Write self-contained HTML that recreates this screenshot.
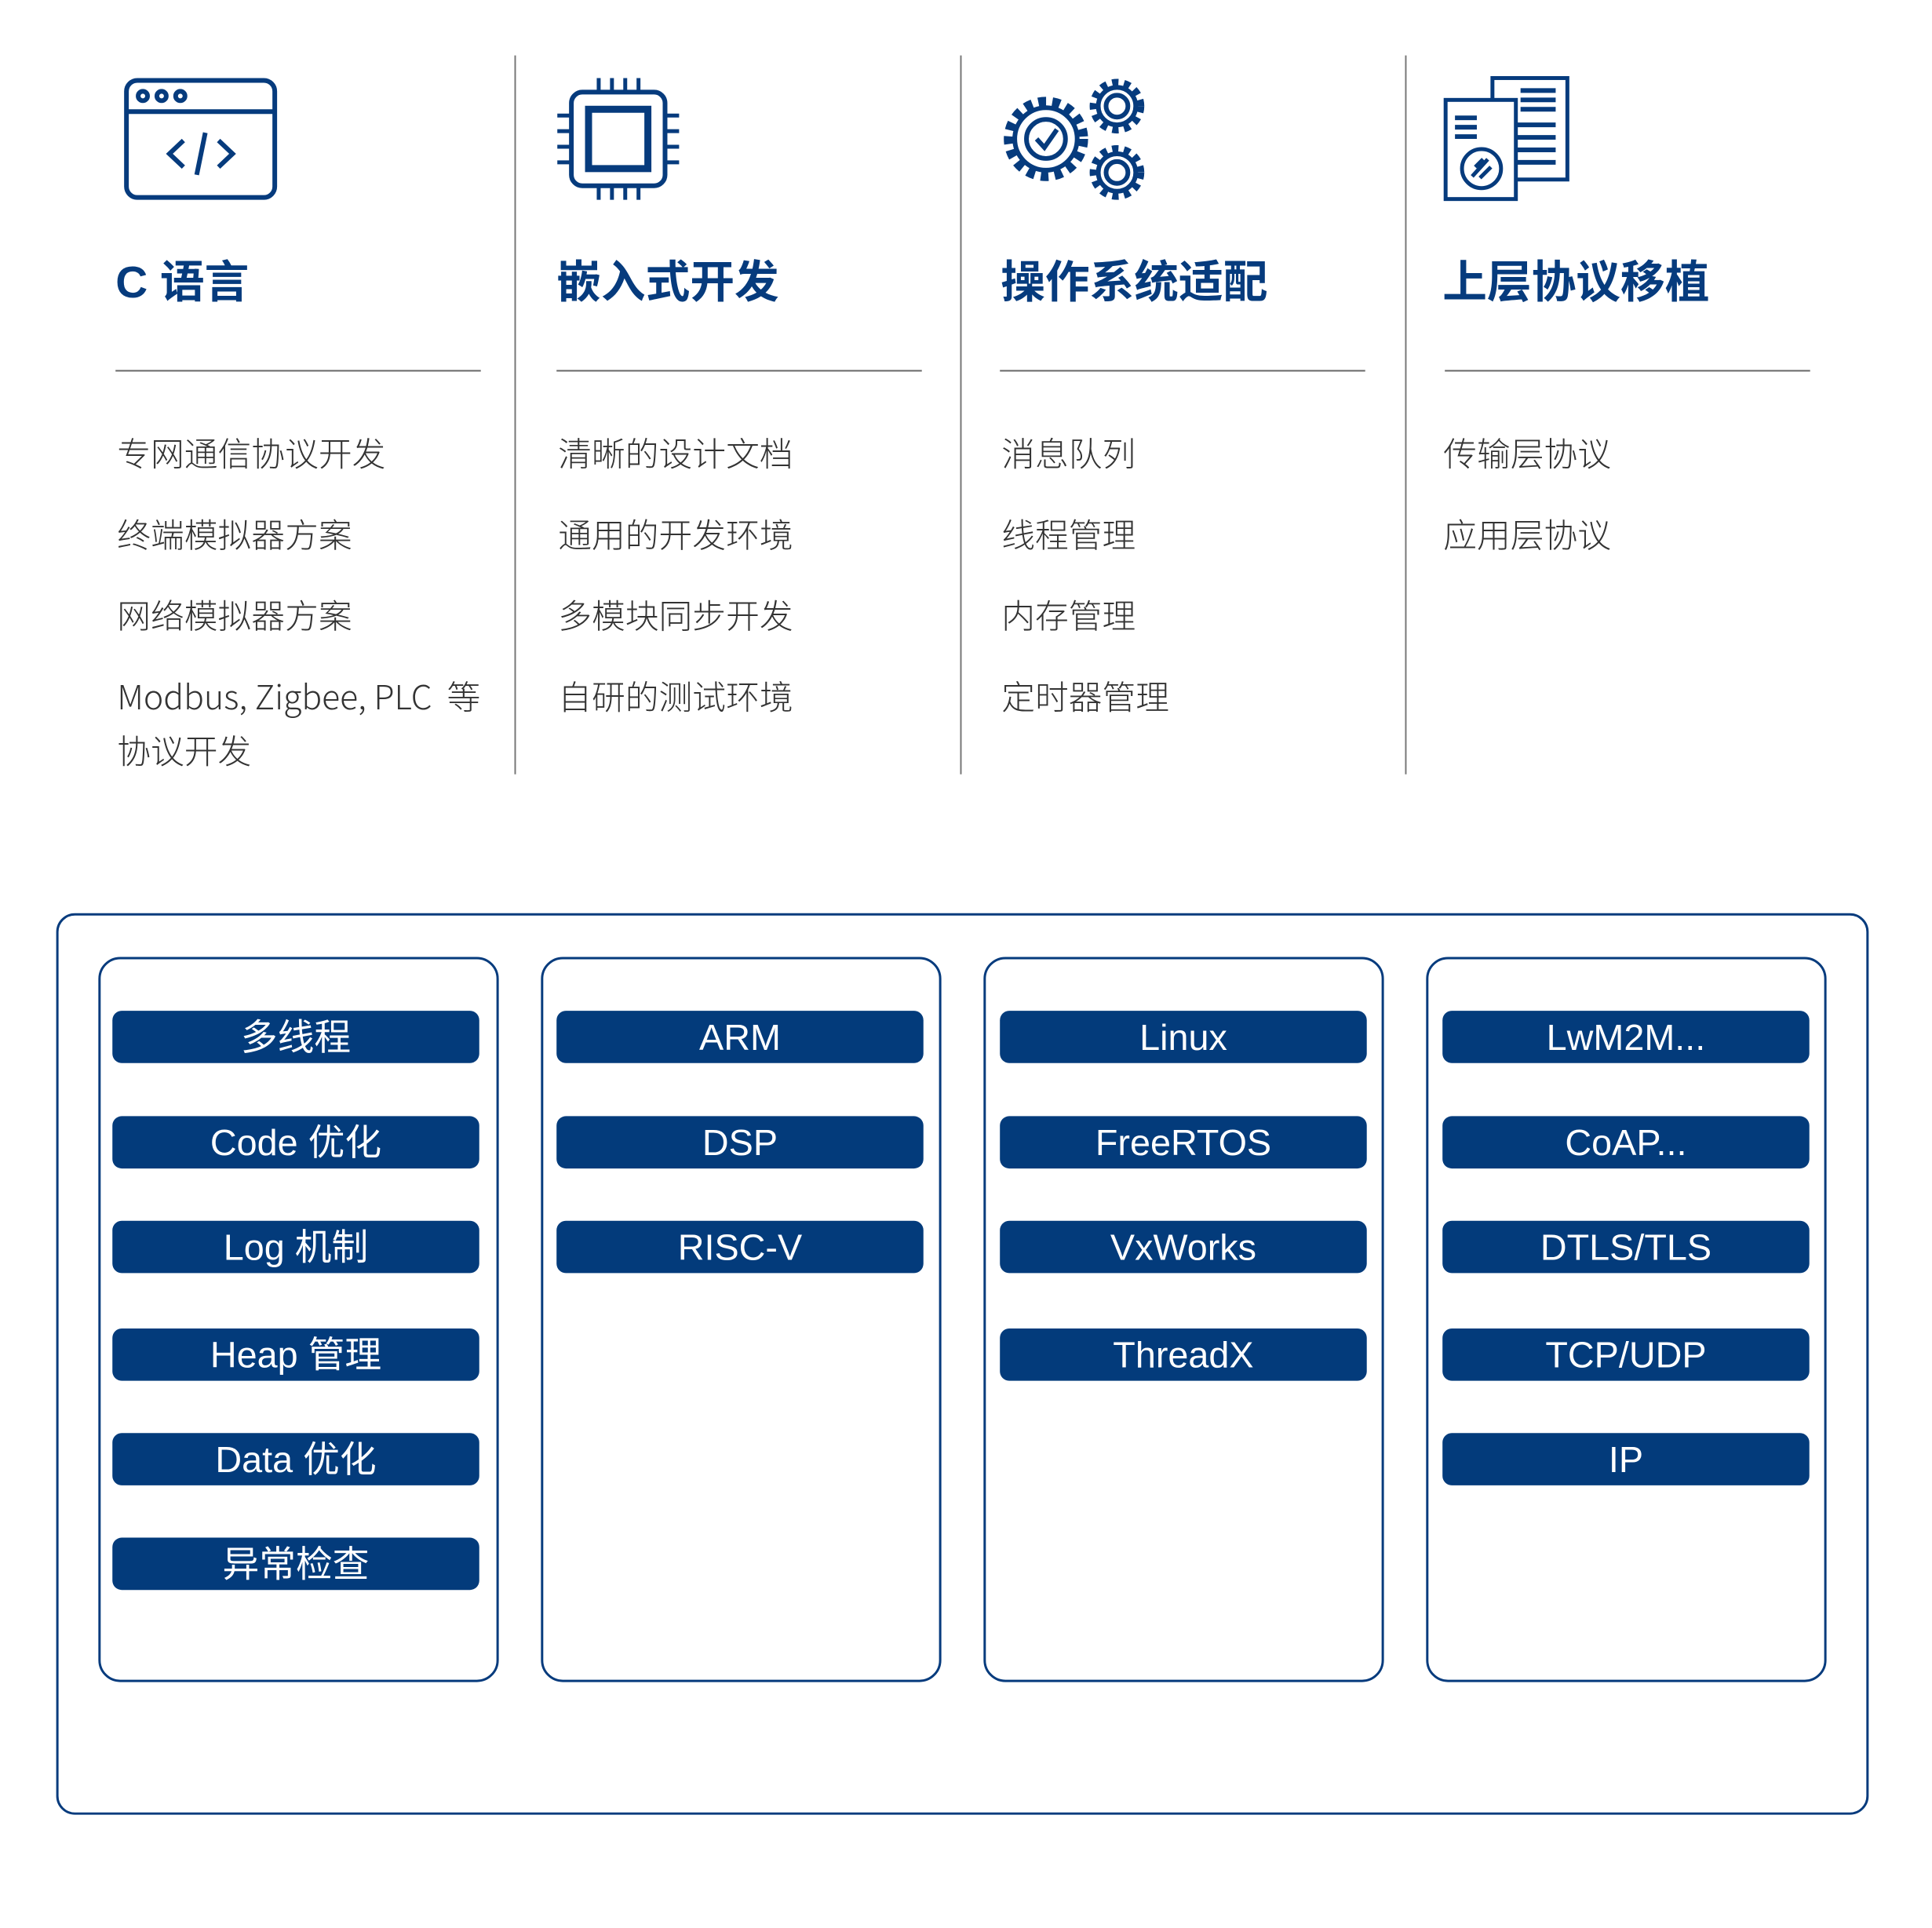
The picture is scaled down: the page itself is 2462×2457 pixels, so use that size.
<!DOCTYPE html>
<html><head><meta charset="utf-8"><style>
*{margin:0;padding:0;box-sizing:border-box}
body{width:2462px;height:2455px;background:#fff;position:relative;overflow:hidden;font-family:"Liberation Sans","Noto Sans CJK SC",sans-serif}
#w{position:absolute;left:0;top:0;width:2480px;height:2470px;transform:scale(0.9947);transform-origin:0 0}
.a{position:absolute}
.vl{position:absolute;top:71px;height:921px;width:2px;background:#777}
.hl{position:absolute;top:474px;height:2px;width:468px;background:#666}
.t{position:absolute;top:316px;font-size:57px;font-weight:bold;color:#063b7d;font-family:"Liberation Sans","Noto Sans CJK SC",sans-serif;white-space:nowrap}
.li{position:absolute;font-size:43px;color:#333;line-height:76px;white-space:nowrap;font-family:"Noto Sans CJK SC",sans-serif;font-weight:300}
.box{position:absolute;top:1226px;height:929px;width:513px;border:3px solid #063b7d;border-radius:28px}
.p{position:absolute;width:470px;height:67px;background:#033b7b;border-radius:12px;color:#fff;font-size:47px;text-align:center;line-height:67px;white-space:nowrap;margin-top:5px}
</style></head><body><div id="w">
<div class="vl" style="left:659px"></div>
<div class="vl" style="left:1230px"></div>
<div class="vl" style="left:1800px"></div>

<svg class="a" style="left:155px;top:98px" width="210" height="160" viewBox="0 0 210 160" fill="none" stroke="#063b7d" stroke-width="6">
<rect x="7" y="5" width="190" height="150" rx="14"/><line x1="7" y1="45" x2="197" y2="45"/>
<circle cx="28" cy="25" r="6"/><circle cx="52" cy="25" r="6"/><circle cx="76" cy="25" r="6"/>
<polyline points="80,82 62,99 80,116"/><polyline points="125,82 143,99 125,116"/><line x1="108" y1="72" x2="97" y2="126"/></svg>

<svg class="a" style="left:712px;top:98px" width="160" height="160" viewBox="0 0 160 160" fill="none" stroke="#063b7d" stroke-width="6">
<rect x="20" y="20" width="120" height="120" rx="14"/><rect x="42" y="42" width="76" height="76" stroke-width="9"/>
<g stroke-width="5"><line x1="55" y1="2" x2="55" y2="20"/><line x1="72" y1="2" x2="72" y2="20"/><line x1="89" y1="2" x2="89" y2="20"/><line x1="106" y1="2" x2="106" y2="20"/>
<line x1="55" y1="140" x2="55" y2="158"/><line x1="72" y1="140" x2="72" y2="158"/><line x1="89" y1="140" x2="89" y2="158"/><line x1="106" y1="140" x2="106" y2="158"/>
<line x1="2" y1="50" x2="20" y2="50"/><line x1="2" y1="70" x2="20" y2="70"/><line x1="2" y1="90" x2="20" y2="90"/><line x1="2" y1="110" x2="20" y2="110"/>
<line x1="140" y1="50" x2="158" y2="50"/><line x1="140" y1="70" x2="158" y2="70"/><line x1="140" y1="90" x2="158" y2="90"/><line x1="140" y1="110" x2="158" y2="110"/></g></svg>

<svg class="a" style="left:1278px;top:96px" width="195" height="165" viewBox="0 0 195 165" fill="none" stroke="#063b7d" stroke-width="6">
<circle cx="62" cy="82" r="48" stroke-width="12" stroke-dasharray="10 8"/><circle cx="62" cy="82" r="40"/><circle cx="62" cy="82" r="25"/>
<polyline points="50,82 60,93 76,70"/>
<circle cx="153" cy="40" r="30" stroke-width="10" stroke-dasharray="8 7"/><circle cx="153" cy="40" r="24"/><circle cx="153" cy="40" r="14"/>
<circle cx="153" cy="125" r="30" stroke-width="10" stroke-dasharray="8 7"/><circle cx="153" cy="125" r="24"/><circle cx="153" cy="125" r="14"/></svg>

<svg class="a" style="left:1848px;top:96px" width="165" height="165" viewBox="0 0 165 165" fill="none" stroke="#063b7d" stroke-width="5">
<rect x="64" y="4" width="96" height="130"/><rect x="4" y="32" width="90" height="127" fill="#fff"/>
<g stroke-width="6"><line x1="100" y1="20" x2="145" y2="20"/><line x1="100" y1="32" x2="145" y2="32"/><line x1="100" y1="44" x2="145" y2="44"/>
<line x1="94" y1="64" x2="145" y2="64"/><line x1="94" y1="80" x2="145" y2="80"/><line x1="94" y1="96" x2="145" y2="96"/><line x1="94" y1="112" x2="145" y2="112"/>
<line x1="16" y1="55" x2="44" y2="55"/><line x1="16" y1="67" x2="44" y2="67"/><line x1="16" y1="79" x2="44" y2="79"/></g>
<circle cx="50" cy="120" r="25"/><path d="M38 130 L58 108 M42 118 L52 108 M48 132 L62 118"/></svg>

<div class="t" style="left:148px">C 语言</div>
<div class="t" style="left:713px">嵌入式开发</div>
<div class="t" style="left:1282px">操作系统适配</div>
<div class="t" style="left:1848px">上层协议移植</div>

<div class="hl" style="left:148px"></div><div class="hl" style="left:713px"></div><div class="hl" style="left:1281px"></div><div class="hl" style="left:1851px"></div>

<div class="li" style="left:150px;top:527px;line-height:104px">专网通信协议开发<br>终端模拟器方案<br>网络模拟器方案<br>Modbus, Zigbee, PLC &nbsp;等</div>
<div class="li" style="left:150px;top:922px">协议开发</div>
<div class="li" style="left:715px;top:527px;line-height:104px">清晰的设计文档<br>通用的开发环境<br>多模块同步开发<br>自研的测试环境</div>
<div class="li" style="left:1283px;top:527px;line-height:104px">消息队列<br>线程管理<br>内存管理<br>定时器管理</div>
<div class="li" style="left:1849px;top:527px;line-height:104px">传输层协议<br>应用层协议</div>

<div class="a" style="left:72px;top:1170px;width:2322px;height:1155px;border:3px solid #063b7d;border-radius:24px"></div>
<div class="box" style="left:126px"></div><div class="box" style="left:693px"></div><div class="box" style="left:1260px"></div><div class="box" style="left:1827px"></div>

<div class="p" style="left:144px;top:1290px">多线程</div>
<div class="p" style="left:144px;top:1425px">Code 优化</div>
<div class="p" style="left:144px;top:1559px">Log 机制</div>
<div class="p" style="left:144px;top:1697px">Heap 管理</div>
<div class="p" style="left:144px;top:1831px">Data 优化</div>
<div class="p" style="left:144px;top:1965px">异常检查</div>

<div class="p" style="left:713px;top:1290px">ARM</div>
<div class="p" style="left:713px;top:1425px">DSP</div>
<div class="p" style="left:713px;top:1559px">RISC-V</div>

<div class="p" style="left:1281px;top:1290px">Linux</div>
<div class="p" style="left:1281px;top:1425px">FreeRTOS</div>
<div class="p" style="left:1281px;top:1559px">VxWorks</div>
<div class="p" style="left:1281px;top:1697px">ThreadX</div>

<div class="p" style="left:1848px;top:1290px">LwM2M...</div>
<div class="p" style="left:1848px;top:1425px">CoAP...</div>
<div class="p" style="left:1848px;top:1559px">DTLS/TLS</div>
<div class="p" style="left:1848px;top:1697px">TCP/UDP</div>
<div class="p" style="left:1848px;top:1831px">IP</div>
</div></body></html>
